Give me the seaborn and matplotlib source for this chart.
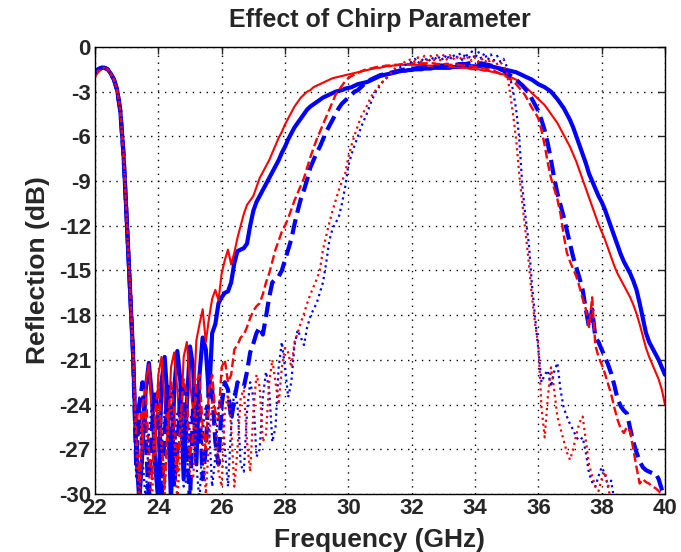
import numpy as np
import matplotlib
matplotlib.use("Agg")
import matplotlib.pyplot as plt
import seaborn as sns

# frequency grid (GHz), 0.1 GHz step
freq = np.round(np.arange(22.0, 40.01, 0.1), 1)

# reflection (dB), one row per GHz
red_solid = [
    -2.0, -1.7, -1.5, -1.4, -1.5, -1.8, -2.2, -2.9, -4.3, -7.2,
    -11.5, -16.0, -20.5, -26.0, -23.5, -27.0, -22.5, -21.3, -24.5, -27.5,
    -22.0, -20.8, -23.8, -26.5, -21.5, -20.5, -23.0, -25.8, -20.8, -19.8,
    -22.5, -24.5, -19.7, -18.6, -17.6, -19.8, -18.2, -16.9, -16.3, -17.0,
    -15.2, -14.3, -13.6, -14.6, -13.8, -12.8, -12.0, -11.2, -10.6, -10.3,
    -10.0, -9.4, -8.8, -8.4, -8.0, -7.6, -7.1, -6.6, -6.1, -5.7,
    -5.2, -4.8, -4.4, -4.0, -3.7, -3.4, -3.2, -3.0, -2.9, -2.7,
    -2.6, -2.5, -2.4, -2.3, -2.2, -2.1, -2.05, -2.0, -1.95, -1.9,
    -1.85, -1.8, -1.75, -1.7, -1.65, -1.6, -1.55, -1.5, -1.45, -1.4,
    -1.4, -1.35, -1.3, -1.3, -1.25, -1.25, -1.2, -1.2, -1.2, -1.2,
    -1.2, -1.2, -1.2, -1.2, -1.2, -1.25, -1.25, -1.3, -1.3, -1.3,
    -1.3, -1.3, -1.35, -1.35, -1.35, -1.4, -1.4, -1.4, -1.45, -1.5,
    -1.5, -1.5, -1.55, -1.6, -1.6, -1.65, -1.7, -1.75, -1.8, -1.85,
    -1.9, -2.0, -2.1, -2.2, -2.35, -2.5, -2.7, -2.9, -3.1, -3.3,
    -3.5, -3.7, -3.9, -4.2, -4.5, -4.8, -5.1, -5.5, -5.9, -6.3,
    -6.7, -7.2, -7.7, -8.3, -8.9, -9.5, -10.1, -10.7, -11.3, -11.9,
    -12.4, -12.9, -13.5, -14.1, -14.7, -15.2, -15.6, -16.0, -16.4, -16.8,
    -17.3, -17.9, -18.6, -19.4, -20.2, -20.8, -21.3, -21.8, -22.3, -23.0,
    -24.0,
]

blue_solid = [
    -1.7, -1.5, -1.4, -1.4, -1.5, -1.8, -2.2, -2.9, -4.3, -7.2,
    -11.5, -16.0, -20.5, -27.0, -30.5, -27.0, -23.0, -21.2, -23.5, -28.0,
    -30.5, -22.5, -20.8, -24.0, -30.5, -23.0, -20.4, -22.5, -29.0, -24.0,
    -20.1, -21.5, -28.0, -22.0, -19.5, -20.3, -23.5, -19.2, -18.6, -17.2,
    -16.8, -16.5, -16.4, -15.8, -14.5, -13.7, -13.6, -13.5, -13.2, -12.0,
    -11.0, -10.4, -10.0, -9.6, -9.2, -8.8, -8.4, -8.0, -7.6, -7.1,
    -6.7, -6.2, -5.8, -5.4, -5.1, -4.8, -4.5, -4.2, -4.0, -3.85,
    -3.7, -3.55, -3.4, -3.3, -3.2, -3.1, -3.0, -2.95, -2.9, -2.8,
    -2.75, -2.7, -2.6, -2.5, -2.45, -2.4, -2.35, -2.25, -2.15, -2.05,
    -1.95, -1.9, -1.85, -1.8, -1.75, -1.7, -1.65, -1.6, -1.6, -1.55,
    -1.55, -1.5, -1.5, -1.5, -1.45, -1.45, -1.45, -1.4, -1.4, -1.4,
    -1.4, -1.4, -1.4, -1.35, -1.35, -1.35, -1.3, -1.3, -1.3, -1.3,
    -1.3, -1.3, -1.3, -1.3, -1.3, -1.3, -1.35, -1.4, -1.45, -1.5,
    -1.55, -1.6, -1.65, -1.7, -1.8, -1.9, -2.0, -2.1, -2.2, -2.35,
    -2.5, -2.6, -2.7, -2.85, -3.0, -3.25, -3.5, -3.8, -4.1, -4.5,
    -4.9, -5.4, -6.0, -6.6, -7.2, -7.8, -8.5, -9.0, -9.5, -10.0,
    -10.4, -10.9, -11.5, -12.1, -12.7, -13.3, -13.9, -14.4, -14.8, -15.2,
    -15.7, -16.3, -17.2, -18.2, -19.2, -19.8, -20.2, -20.6, -21.0, -21.5,
    -22.0,
]

red_dashed = [
    -1.9, -1.6, -1.5, -1.4, -1.5, -1.8, -2.2, -2.9, -4.3, -7.2,
    -11.5, -16.0, -20.5, -26.0, -29.0, -24.0, -23.0, -27.0, -29.0, -24.5,
    -22.5, -26.0, -29.5, -25.0, -22.5, -24.5, -28.5, -25.0, -22.3, -23.5,
    -27.5, -26.0, -22.5, -22.0, -25.5, -27.0, -23.0, -22.0, -24.5, -25.0,
    -21.5, -21.0, -22.5, -22.0, -20.3, -20.0, -19.5, -19.3, -18.8, -18.2,
    -17.7, -17.4, -17.2, -16.6, -15.8, -15.2, -14.4, -13.6, -13.0, -12.4,
    -12.0, -11.5, -10.9, -10.3, -9.8, -9.3, -8.8, -8.1, -7.4, -6.8,
    -6.2, -5.7, -5.2, -4.7, -4.2, -3.7, -3.2, -2.9, -2.6, -2.3,
    -2.1, -1.95, -1.85, -1.75, -1.65, -1.55, -1.5, -1.45, -1.4, -1.35,
    -1.3, -1.3, -1.25, -1.25, -1.2, -1.2, -1.2, -1.15, -1.15, -1.15,
    -1.15, -1.1, -1.1, -1.1, -1.1, -1.1, -1.1, -1.1, -1.15, -1.15,
    -1.15, -1.15, -1.2, -1.2, -1.2, -1.2, -1.25, -1.25, -1.3, -1.3,
    -1.35, -1.35, -1.4, -1.45, -1.5, -1.55, -1.6, -1.7, -1.8, -1.9,
    -2.0, -2.15, -2.3, -2.5, -2.75, -3.0, -3.3, -3.7, -4.1, -4.4,
    -4.8, -5.6, -6.6, -7.8, -8.8, -9.5, -10.2, -11.2, -12.6, -13.8,
    -14.4, -14.9, -15.4, -16.1, -16.9, -17.6, -18.8, -16.8, -20.0, -20.8,
    -21.3, -21.9, -22.6, -23.3, -24.2, -25.0, -25.6, -25.9, -25.5, -25.8,
    -27.0, -28.2, -29.3, -29.0, -29.2, -29.3, -29.5, -29.6, -29.8, -30.0,
    -30.3,
]

blue_dashed = [
    -1.7, -1.5, -1.4, -1.4, -1.5, -1.8, -2.2, -2.9, -4.3, -7.2,
    -11.5, -16.0, -20.5, -28.0, -24.0, -22.5, -26.0, -30.5, -25.5, -23.0,
    -25.0, -30.5, -26.0, -22.8, -23.5, -29.5, -27.0, -23.0, -22.8, -27.0,
    -30.5, -24.0, -22.5, -24.0, -29.0, -27.0, -22.5, -23.0, -26.5, -28.0,
    -24.0, -22.5, -23.0, -25.0, -23.7, -22.5, -22.8, -22.8, -21.8, -20.5,
    -19.9, -19.2, -18.8, -19.3, -18.1, -16.8, -15.8, -15.6, -15.4, -15.0,
    -14.3, -13.6, -12.9, -11.9, -11.0, -10.2, -9.6, -8.9, -8.1, -7.6,
    -7.1, -6.7, -6.2, -5.7, -5.3, -4.9, -4.5, -4.1, -3.8, -3.6,
    -3.4, -3.2, -3.0, -2.9, -2.7, -2.5, -2.35, -2.2, -2.1, -2.0,
    -1.9, -1.85, -1.8, -1.75, -1.7, -1.65, -1.6, -1.55, -1.5, -1.5,
    -1.45, -1.45, -1.4, -1.4, -1.35, -1.35, -1.3, -1.3, -1.3, -1.25,
    -1.25, -1.2, -1.2, -1.2, -1.2, -1.15, -1.15, -1.15, -1.1, -1.1,
    -1.1, -1.1, -1.1, -1.15, -1.2, -1.25, -1.3, -1.4, -1.5, -1.6,
    -1.75, -1.9, -2.05, -2.2, -2.4, -2.6, -2.85, -3.1, -3.5, -3.9,
    -4.3, -4.9, -5.6, -6.5, -7.6, -8.8, -9.8, -10.6, -11.4, -12.3,
    -13.2, -14.1, -14.8, -15.5, -16.3, -17.6, -18.8, -17.6, -19.5, -19.8,
    -20.3, -20.8, -21.3, -21.9, -22.7, -23.6, -24.1, -24.4, -24.6, -25.6,
    -26.5, -27.2, -27.8, -28.2, -28.4, -28.5, -28.6, -28.6, -29.0, -29.7,
    -30.3,
]

blue_dotted = [
    -1.8, -1.5, -1.4, -1.4, -1.5, -1.8, -2.2, -2.9, -4.3, -7.2,
    -11.5, -16.0, -20.5, -29.0, -25.0, -27.5, -30.5, -26.0, -24.0, -28.0,
    -30.5, -27.0, -24.5, -26.0, -30.5, -28.0, -24.5, -25.0, -29.5, -29.0,
    -25.0, -24.5, -28.0, -30.5, -26.0, -24.0, -25.5, -29.5, -27.5, -24.0,
    -23.5, -27.0, -29.5, -25.5, -23.0, -24.0, -28.0, -28.5, -24.5, -22.5,
    -23.5, -27.5, -27.0, -23.5, -21.8, -23.0, -26.5, -25.5, -21.5, -19.8,
    -21.5, -23.5, -22.5, -20.0, -19.0, -19.5, -20.0, -18.8, -18.1, -17.6,
    -17.2, -16.5, -15.8, -14.5, -13.0, -12.2, -11.8, -11.4, -10.5, -9.4,
    -8.0, -7.2, -6.6, -6.0, -5.4, -4.9, -4.4, -3.8, -3.3, -2.9,
    -2.6, -2.3, -2.1, -1.9, -1.7, -1.55, -1.4, -1.3, -1.2, -1.1,
    -1.0, -0.8, -1.1, -0.8, -1.0, -0.7, -1.0, -0.6, -0.9, -0.6,
    -0.9, -0.5, -0.9, -0.5, -0.8, -0.4, -0.9, -0.4, -0.8, -0.3,
    -0.8, -0.3, -0.8, -0.4, -0.9, -0.5, -0.9, -0.6, -1.0, -0.8,
    -1.3, -2.0, -2.9, -4.2, -6.2, -9.5, -11.5, -13.2, -16.0, -18.2,
    -20.3, -22.5, -22.0, -21.7, -22.8, -21.8, -21.2, -23.0, -24.2, -24.8,
    -25.3, -25.7, -26.2, -26.4, -26.2, -27.2, -28.6, -29.2, -29.5, -28.8,
    -28.2, -28.6, -29.5, -29.1, -30.5, -31.0, -31.5, -32.0, -32.5, -33.0,
    -33.5, -34.0, -34.5, -35.0, -35.5, -36.0, -36.5, -37.0, -37.5, -38.0,
    -38.5,
]

red_dotted = [
    -2.0, -1.6, -1.5, -1.4, -1.5, -1.8, -2.2, -2.9, -4.3, -7.2,
    -11.5, -16.0, -20.5, -27.0, -30.5, -26.0, -24.5, -28.5, -30.5, -25.5,
    -24.0, -27.0, -30.0, -25.5, -24.0, -26.5, -30.5, -27.0, -24.5, -25.0,
    -28.5, -29.0, -25.0, -24.0, -26.5, -30.0, -26.5, -23.8, -24.5, -28.5,
    -29.5, -24.5, -23.3, -25.5, -29.5, -27.0, -23.5, -23.0, -26.5, -28.5,
    -24.5, -22.0, -22.8, -26.5, -26.0, -22.5, -21.0, -22.5, -24.0, -21.5,
    -20.2, -20.5, -21.5, -19.8, -19.2, -18.5, -17.9, -17.2, -16.6, -16.1,
    -15.6, -15.0, -13.6, -12.7, -11.8, -11.0, -10.3, -9.6, -9.0, -8.5,
    -7.4, -6.6, -5.9, -5.3, -4.7, -4.3, -3.9, -3.4, -3.1, -2.8,
    -2.5, -2.3, -2.1, -1.9, -1.6, -1.4, -1.2, -1.1, -1.0, -0.9,
    -0.8, -1.0, -0.7, -1.0, -0.6, -0.9, -0.6, -0.9, -0.55, -0.9,
    -0.55, -0.85, -0.55, -0.85, -0.6, -0.9, -0.6, -0.9, -0.65, -0.95,
    -0.7, -1.0, -0.75, -1.05, -0.8, -1.1, -0.9, -1.15, -1.0, -1.3,
    -1.6, -3.0, -4.5, -6.2, -8.6, -10.6, -12.5, -14.5, -16.8, -18.6,
    -20.0, -24.2, -26.2, -23.5, -21.5, -23.0, -24.8, -25.6, -26.4, -27.2,
    -27.7, -27.0, -26.0, -25.2, -24.8, -26.4, -28.0, -28.8, -29.5, -29.8,
    -29.0, -28.5, -29.5, -30.5, -31.0, -31.5, -32.0, -32.5, -33.0, -33.5,
    -34.0, -34.5, -35.0, -35.5, -36.0, -36.5, -37.0, -37.5, -38.0, -38.5,
    -39.0,
]

x_ticks = [22, 24, 26, 28, 30, 32, 34, 36, 38, 40]
y_ticks = [0, -3, -6, -9, -12, -15, -18, -21, -24, -27, -30]

sns.set_style("white")
plt.rcParams['font.family'] = ['Liberation Sans', 'DejaVu Sans']
plt.rcParams['font.weight'] = 'bold'
plt.rcParams['axes.unicode_minus'] = False

fig = plt.figure(figsize=(6.81, 5.52), dpi=100)
ax = fig.add_axes([0.1395, 0.105, 0.837, 0.81])

curves = [
    (blue_solid, 'blue', '-', 3.0),
    (red_solid, 'red', '-', 1.5),
    (blue_dashed, 'blue', '--', 3.0),
    (red_dashed, 'red', '--', 1.7),
    (blue_dotted, 'blue', ':', 1.6),
    (red_dotted, 'red', ':', 1.6),
]
for vals, col, ls, lw in curves:
    sns.lineplot(x=freq, y=np.array(vals), ax=ax, color=col, linestyle=ls,
                 linewidth=lw, sort=False, estimator=None)

ax.set_xlim(22, 40)
ax.set_ylim(-30, 0)
ax.set_xticks(x_ticks)
ax.set_yticks(y_ticks)
ax.grid(True, color='black', linestyle=(0, (1, 4)), linewidth=1.0)
ax.tick_params(direction='in', top=True, right=True, length=5,
               labelsize=16, width=1, pad=3)
for lab in ax.get_xticklabels() + ax.get_yticklabels():
    lab.set_fontweight('bold')
for sp in ax.spines.values():
    sp.set_color('black')
    sp.set_linewidth(1.0)

ax.set_title('Effect of Chirp Parameter', fontsize=18, fontweight='bold', pad=14)
ax.set_xlabel('Frequency (GHz)', fontsize=19, fontweight='bold', labelpad=6)
ax.set_ylabel('Reflection (dB)', fontsize=19, fontweight='bold', labelpad=6)

fig.savefig('out.png', dpi=100)
